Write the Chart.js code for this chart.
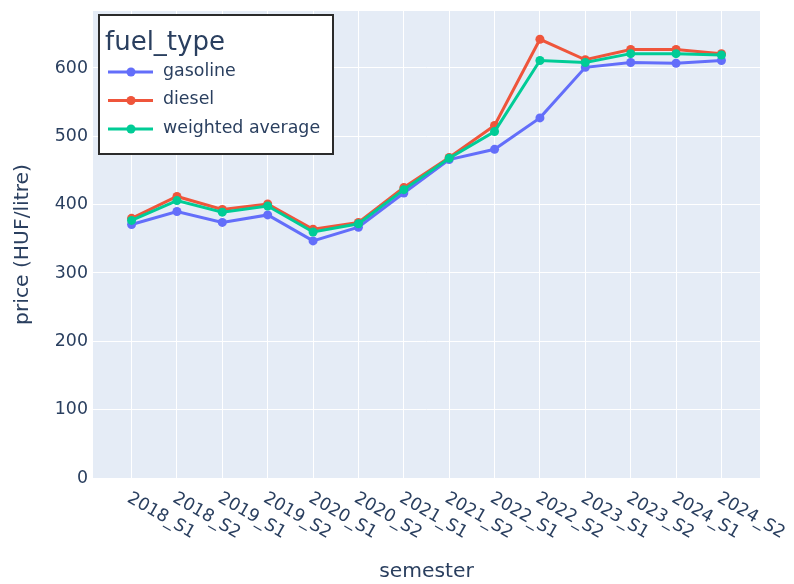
<!DOCTYPE html>
<html>
<head>
<meta charset="utf-8">
<script src="https://cdn.jsdelivr.net/npm/chart.js@4.4.1/dist/chart.umd.min.js"></script>
<style>
  body { margin: 0; background: #fff; }
  #wrap { width: 794px; height: 584px; }
</style>
</head>
<body>
<div id="wrap"><canvas id="line-chart" width="794" height="584"></canvas></div>
<script>
const semesters = [
  "2018_S1", "2018_S2", "2019_S1", "2019_S2", "2020_S1", "2020_S2", "2021_S1",
  "2021_S2", "2022_S1", "2022_S2", "2023_S1", "2023_S2", "2024_S1", "2024_S2",
];
const gasoline = [371, 390, 374, 385, 347, 367, 417, 466, 481, 527, 601, 608, 607, 611];
const diesel = [380, 412, 393, 401, 364, 374, 425, 469, 516, 642, 612, 627, 627, 621];
const weightedAverage = [377, 406, 389, 398, 360, 372, 422, 468, 507, 611, 608, 621, 621, 619];
const yTicks = [0, 100, 200, 300, 400, 500, 600];

const textColor = "#2a3f5f";
const fontFamily = "'DejaVu Sans', Verdana, sans-serif";

const toPoints = (arr) => arr.map((v, i) => ({ x: i, y: v }));

//
const data = {
  datasets: [
    { label: "gasoline", data: toPoints(gasoline), borderColor: "#636efa", backgroundColor: "#636efa", order: 2 },
    { label: "diesel", data: toPoints(diesel), borderColor: "#EF553B", backgroundColor: "#EF553B", order: 1 },
    { label: "weighted average", data: toPoints(weightedAverage), borderColor: "#00cc96", backgroundColor: "#00cc96", order: 0 },
  ],
};

// plot background
const plotBg = {
  id: "plotBg",
  beforeDraw(chart) {
    const { ctx, chartArea: a } = chart;
    ctx.save();
    ctx.fillStyle = "#E5ECF6";
    ctx.fillRect(a.left, a.top, a.right - a.left, a.bottom - a.top);
    ctx.restore();
  },
};

// rotated x labels, plotly style (going down-right)
const xLabels = {
  id: "xLabels",
  afterDraw(chart) {
    const { ctx, chartArea: a } = chart;
    const xs = chart.scales.x;
    ctx.save();
    ctx.fillStyle = textColor;
    ctx.font = "17.4px " + fontFamily;
    ctx.textAlign = "left";
    ctx.textBaseline = "middle";
    semesters.forEach((s, i) => {
      const x = xs.getPixelForValue(i);
      ctx.save();
      ctx.translate(x - 3, a.bottom + 19);
      ctx.rotate(Math.PI / 6);
      ctx.fillText(s, 0, 0);
      ctx.restore();
    });
    ctx.restore();
  },
};

// legend box inside the plot
const boxLegend = {
  id: "boxLegend",
  afterDraw(chart) {
    const { ctx, chartArea: a } = chart;
    const left = a.left + 6;
    const top = a.top + 4;
    ctx.save();
    ctx.fillStyle = "#fff";
    ctx.fillRect(left, top, 234, 139);
    ctx.strokeStyle = "#2b2b2b";
    ctx.lineWidth = 2;
    ctx.strokeRect(left, top, 234, 139);

    ctx.fillStyle = textColor;
    ctx.font = "26px " + fontFamily;
    ctx.textBaseline = "alphabetic";
    ctx.fillText("fuel_type", left + 6, top + 35);

    ctx.font = "17.4px " + fontFamily;
    ctx.textBaseline = "middle";
    chart.data.datasets.forEach((ds, i) => {
      const y = top + 57 + i * 28.5;
      ctx.strokeStyle = ds.borderColor;
      ctx.lineWidth = 3;
      ctx.beginPath();
      ctx.moveTo(left + 9, y);
      ctx.lineTo(left + 54, y);
      ctx.stroke();
      ctx.fillStyle = ds.borderColor;
      ctx.beginPath();
      ctx.arc(left + 32, y, 4.5, 0, Math.PI * 2);
      ctx.fill();
      ctx.fillStyle = textColor;
      ctx.fillText(ds.label, left + 64, y - 1);
    });
    ctx.restore();
  },
};

//
const config = {
  type: "line",
  data: data,
  options: {
    responsive: false,
    animation: false,
    layout: { padding: { top: 11, right: 34, left: 0, bottom: 0 } },
    elements: {
      line: { borderWidth: 3, tension: 0 },
      point: { radius: 4.5, borderWidth: 0, hoverRadius: 4.5 },
    },
    plugins: {
      legend: { display: false },
      tooltip: { enabled: false },
    },
    scales: {
      x: {
        type: "linear",
        min: -0.85,
        max: 13.85,
        afterBuildTicks: (scale) => {
          scale.ticks = semesters.map((s, i) => ({ value: i }));
        },
        afterFit: (scale) => {
          scale.height = 106;
          scale.paddingLeft = 0;
          scale.paddingRight = 0;
        },
        ticks: { display: false },
        grid: { color: "#ffffff", lineWidth: 1, drawTicks: false },
        border: { display: false },
        title: {
          display: true,
          text: "semester",
          color: textColor,
          font: { family: fontFamily, size: 20.3 },
          padding: { top: 0, bottom: 0 },
        },
      },
      y: {
        min: 0,
        max: 683.4,
        afterBuildTicks: (scale) => {
          scale.ticks = yTicks.map((v) => ({ value: v }));
        },
        afterFit: (scale) => {
          scale.width = 93;
          scale.paddingTop = 0;
          scale.paddingBottom = 0;
        },
        ticks: {
          color: textColor,
          font: { family: fontFamily, size: 17.4 },
          padding: 5,
        },
        grid: { color: "#ffffff", lineWidth: 1, drawTicks: false },
        border: { display: false },
        title: {
          display: true,
          text: "price (HUF/litre)",
          color: textColor,
          font: { family: fontFamily, size: 20.3 },
          padding: { top: 11, bottom: 0 },
        },
      },
    },
  },
  plugins: [plotBg, xLabels, boxLegend],
};

//
let ctx = document.getElementById("line-chart");
const lineChart = new Chart(ctx, config);
</script>
</body>
</html>
